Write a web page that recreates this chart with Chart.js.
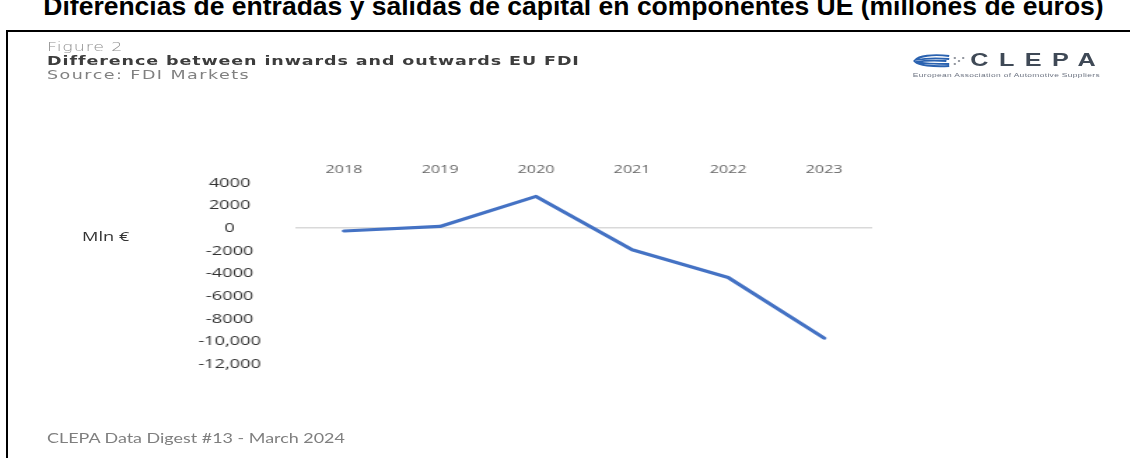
<!DOCTYPE html>
<html lang="en">
<head>
<meta charset="utf-8">
<title>Difference between inwards and outwards EU FDI</title>
<script src="https://cdn.jsdelivr.net/npm/chart.js@4.4.1/dist/chart.umd.min.js"></script>
<style>
  html, body { margin: 0; padding: 0; background: #fff; overflow: hidden; }
  body { width: 1130px; height: 458px; position: relative; }

  /* headline above the framed figure */
  #headline {
    position: absolute; left: 0; top: -9.4px; width: 1147px;
    text-align: center; white-space: nowrap; line-height: 1;
    font: bold 26.5px "Liberation Sans", Arial, sans-serif; color: #000;
  }
  #frame {
    position: absolute; left: 6px; top: 30px; width: 1140px; height: 440px;
    border-top: 2px solid #000; border-left: 2px solid #000;
  }

  /* the figure itself is laid out narrow and stretched wide */
  #stage {
    position: absolute; left: 0; top: 0; width: 807px; height: 458px;
    transform: scaleX(1.4); transform-origin: 0 0;
    font-family: Lato, "Open Sans", sans-serif;
  }
  .txt { position: absolute; white-space: nowrap; line-height: 1; }
  #figNo   { left: 33.6px; top: 38.5px; font: 200 12.5px "DejaVu Sans", sans-serif; color: #8f8f8f; letter-spacing: 0.6px; }
  #figName { left: 33.6px; top: 53px; font: bold 12.5px "DejaVu Sans", sans-serif; color: #3d3d3d; letter-spacing: 0.65px; }
  #figSrc  { left: 33.6px; top: 66.5px; font: 12.5px "DejaVu Sans", sans-serif; color: #808080; letter-spacing: 1.05px; }
  #footer  { left: 33.6px; top: 431.5px; font-size: 12.8px; color: #7f7f7f; }
  #unit    { left: 58.6px; top: 227px; font: 13px "Open Sans", sans-serif; color: #333; }

  #logo { position: absolute; left: 652px; top: 52px; width: 136px; height: 30px; }
  #logo svg { position: absolute; left: 0; top: 2px; }
  #logoWord {
    position: absolute; left: 41px; top: 0; font: bold 18px "Liberation Sans", Arial, sans-serif;
    color: #3f4956; letter-spacing: 7.5px; line-height: 17px;
  }
  #logoSub {
    position: absolute; left: 0; top: 19.5px; font: 6px "Liberation Sans", Arial, sans-serif;
    color: #6b7280; white-space: nowrap; letter-spacing: 0.25px; line-height: 6px;
  }

  #chartBox { position: absolute; left: 120px; top: 150px; width: 520px; height: 247px; }
</style>
</head>
<body>
<div id="headline">Diferencias de entradas y salidas de capital en componentes UE (millones de euros)</div>
<div id="frame"></div>

<div id="stage">
  <div class="txt" id="figNo">Figure 2</div>
  <div class="txt" id="figName">Difference between inwards and outwards EU FDI</div>
  <div class="txt" id="figSrc">Source: FDI Markets</div>

  <div id="logo">
    <svg width="38" height="14" viewBox="0 0 38 14">
      <path d="M26 2 C14 0 4 2 2 6 C10 4 18 4 26 5" fill="none" stroke="#2a62b0" stroke-width="1.8"/>
      <path d="M24 7 C14 6 6 7 2 8" fill="none" stroke="#2a62b0" stroke-width="1.8"/>
      <path d="M26 12 C14 13 4 11 2 8 C10 10 18 10 26 10" fill="none" stroke="#2a62b0" stroke-width="1.8"/>
      <circle cx="30" cy="4" r="0.9" fill="#8a8f98"/>
      <circle cx="33" cy="7" r="0.9" fill="#8a8f98"/>
      <circle cx="30" cy="10" r="0.9" fill="#8a8f98"/>
      <circle cx="36" cy="4" r="0.9" fill="#8a8f98"/>
    </svg>
    <div id="logoWord">CLEPA</div>
    <div id="logoSub">European Association of Automotive Suppliers</div>
  </div>

  <div class="txt" id="unit">Mln €</div>
  <div id="chartBox"><canvas id="fdiChart"></canvas></div>

  <div class="txt" id="footer">CLEPA Data Digest #13 - March 2024</div>
</div>

<script>
// ===== DATI =====
const years = ["2018", "2019", "2020", "2021", "2022", "2023"];
const fdiBalance = [-250, 150, 2800, -1900, -4350, -9700]; // Mln €, inwards minus outwards
const yMin = -12000;
const yMax = 4000;
const yStep = 2000;

// etichette asse Y: separatore delle migliaia solo da 10.000 in su
function formatTick(v) {
  return Math.abs(v) >= 10000 ? v.toLocaleString("en-US") : String(v);
}

// ===== GRAFICO =====
const ctx = document.getElementById("fdiChart").getContext("2d");

new Chart(ctx, {
  type: "line",
  data: {
    labels: years,
    datasets: [
      {
        data: fdiBalance,
        borderColor: "#4472c4",
        borderWidth: 3.2,
        borderCapStyle: "round",
        borderJoinStyle: "round",
        pointRadius: 0,
        tension: 0,
        fill: false,
      },
    ],
  },
  options: {
    responsive: true,
    maintainAspectRatio: false,
    animation: false,
    layout: { padding: { top: 0, right: 17, bottom: 17, left: 0 } },
    plugins: {
      legend: { display: false },
      tooltip: { enabled: false },
    },
    scales: {
      x: {
        position: "top",
        offset: true,
        grid: { display: false },
        border: { display: false },
        ticks: {
          color: "#666",
          padding: -2,
          font: { family: "Open Sans", size: 11.5 },
          maxRotation: 0,
        },
        afterFit: (scale) => {
          scale.height = 31;
        },
      },
      y: {
        min: yMin,
        max: yMax,
        grid: {
          drawTicks: false,
          lineWidth: 1.5,
          // solo la linea dello zero
          color: (c) => (c.tick && c.tick.value === 0 ? "#d9d9d9" : "rgba(0,0,0,0)"),
        },
        border: { display: false },
        ticks: {
          stepSize: yStep,
          color: "#333",
          padding: 25,
          crossAlign: "center",
          font: { family: "Open Sans", size: 13 },
          callback: (v) => formatTick(v),
        },
        afterFit: (scale) => {
          scale.width = 91.4;
        },
      },
    },
  },
});
</script>
</body>
</html>
